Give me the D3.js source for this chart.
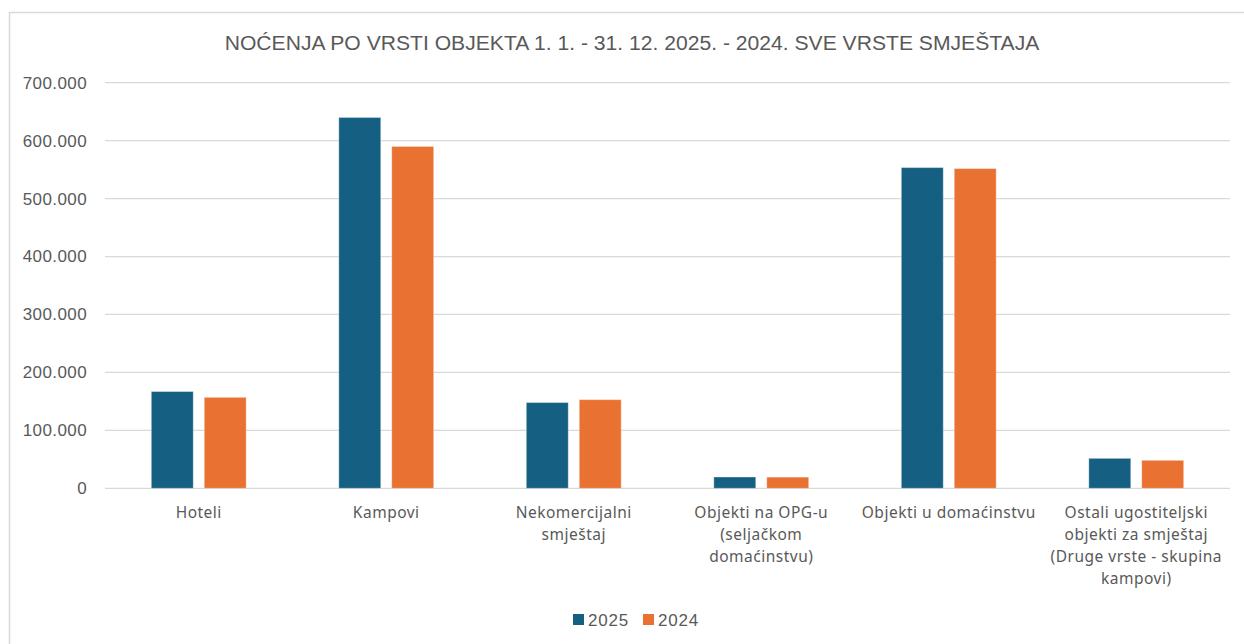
<!DOCTYPE html>
<html>
<head>
<meta charset="utf-8">
<script src="https://cdn.jsdelivr.net/npm/d3@7"></script>
<style>
  html, body { margin: 0; padding: 0; background: #fff; }
  svg { display: block; }
</style>
</head>
<body>
<svg id="chart" width="1244" height="644"></svg>
<script>
const categories = [
  ["Hoteli"],
  ["Kampovi"],
  ["Nekomercijalni", "smještaj"],
  ["Objekti na OPG-u", "(seljačkom", "domaćinstvu)"],
  ["Objekti u domaćinstvu"],
  ["Ostali ugostiteljski", "objekti za smještaj", "(Druge vrste - skupina", "kampovi)"]
];
const values2025 = [167000, 640000, 148000, 19500, 553500, 51700];
const values2024 = [157000, 590000, 153000, 19300, 551800, 48300];
const seriesNames = ["2025", "2024"];
const yTicks = [0, 100000, 200000, 300000, 400000, 500000, 600000, 700000];
const title = "NOĆENJA PO VRSTI OBJEKTA 1. 1. - 31. 12. 2025. - 2024. SVE VRSTE SMJEŠTAJA";

const colors = { "2025": "#156082", "2024": "#E97132" };
const textColor = "#595959";

const svg = d3.select("#chart");

// chart frame (runs off the right/bottom edge in the screenshot)
svg.append("rect")
  .attr("x", 9.5).attr("y", 12.5)
  .attr("width", 1260).attr("height", 660)
  .attr("fill", "none")
  .attr("stroke", "#d9d9d9")
  .attr("stroke-width", 1.5);

const margin = { left: 105, right: 1230, top: 82.7, bottom: 488.3 };

const x = d3.scaleBand()
  .domain(d3.range(categories.length))
  .range([margin.left, margin.right]);

const y = d3.scaleLinear()
  .domain([0, 700000])
  .range([margin.bottom, margin.top]);

const inner = d3.scaleBand()
  .domain(seriesNames)
  .range([0, x.bandwidth()])
  .paddingInner(0.2075)
  .paddingOuter(0.875);

// gridlines
svg.append("g")
  .selectAll("line")
  .data(yTicks)
  .join("line")
  .attr("x1", margin.left).attr("x2", margin.right)
  .attr("y1", d => y(d)).attr("y2", d => y(d))
  .attr("stroke", "#d9d9d9")
  .attr("stroke-width", 1.3);

// y axis labels
const fmt = d => d === 0 ? "0" : d3.format(",")(d).replace(/,/g, ".");
svg.append("g")
  .attr("transform", "translate(87,0)")
  .call(d3.axisLeft(y).tickValues(yTicks).tickFormat(fmt).tickSize(0).tickPadding(0))
  .call(g => g.select(".domain").remove())
  .call(g => g.selectAll("text")
    .attr("fill", textColor)
    .attr("font-family", "Liberation Sans, Arial, sans-serif")
    .attr("font-size", 17)
    .attr("letter-spacing", 0.4));

// bars
const rows = categories.map((c, i) => ({ i, vals: [
  { key: "2025", v: values2025[i] },
  { key: "2024", v: values2024[i] }
]}));

svg.append("g")
  .selectAll("g")
  .data(rows)
  .join("g")
  .attr("transform", d => `translate(${x(d.i)},0)`)
  .selectAll("rect")
  .data(d => d.vals)
  .join("rect")
  .attr("x", d => inner(d.key))
  .attr("width", inner.bandwidth())
  .attr("y", d => y(d.v))
  .attr("height", d => y(0) - y(d.v))
  .attr("fill", d => colors[d.key])
  .attr("stroke", "rgba(255,255,255,0.35)")
  .attr("stroke-width", 1);

// category labels
const catG = svg.append("g");
categories.forEach((lines, i) => {
  const t = catG.append("text")
    .attr("text-anchor", "middle")
    .attr("fill", textColor)
    .attr("font-family", "Noto Sans, Open Sans, sans-serif")
    .attr("font-size", 15.5)
    .attr("letter-spacing", 0.5);
  lines.forEach((ln, k) => {
    t.append("tspan")
      .attr("x", x(i) + x.bandwidth() / 2)
      .attr("y", 518 + k * 22)
      .text(ln);
  });
});

// title
const titleEl = svg.append("text")
  .attr("x", 632)
  .attr("y", 50)
  .attr("text-anchor", "middle")
  .attr("fill", textColor)
  .attr("font-family", "Liberation Sans Narrow, Arial Narrow, sans-serif")
  .attr("font-size", 21)
  .text(title);
// fit to the width seen in the reference
const tw = titleEl.node().getComputedTextLength();
titleEl.attr("font-size", 21 * 815 / tw);

// legend
const legend = svg.append("g").attr("transform", "translate(573,614)");
seriesNames.forEach((s, i) => {
  const g = legend.append("g").attr("transform", `translate(${i * 70},0)`);
  g.append("rect").attr("width", 11).attr("height", 11).attr("fill", colors[s]);
  g.append("text")
    .attr("x", 15).attr("y", 12)
    .attr("fill", textColor)
    .attr("font-family", "Liberation Sans, Arial, sans-serif")
    .attr("font-size", 17)
    .attr("letter-spacing", 0.8)
    .text(s);
});
</script>
</body>
</html>
